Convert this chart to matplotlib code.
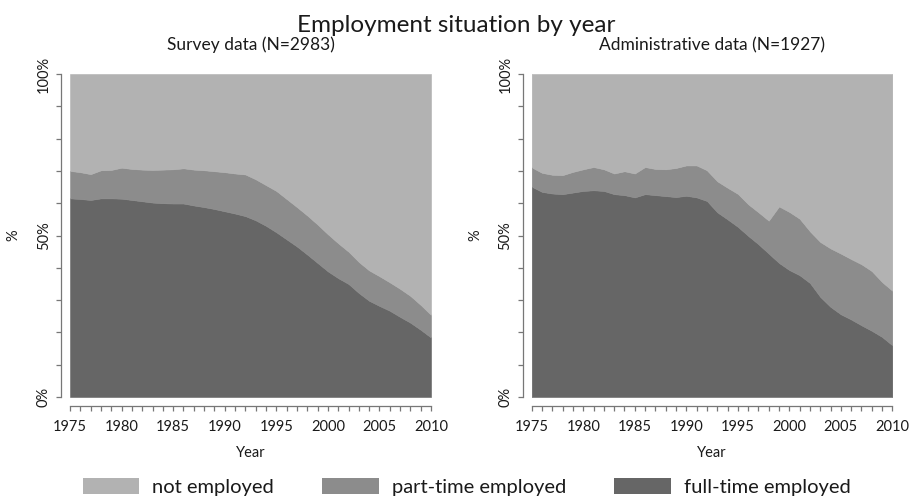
import matplotlib.pyplot as plt
import numpy as np
from matplotlib.patches import Patch
from matplotlib.ticker import MultipleLocator

plt.rcParams['font.family'] = ['Lato', 'DejaVu Sans']

years = np.arange(1975, 2011)

# shares in percent, survey sample
survey_full = [61.5, 61.3, 61.0, 61.5, 61.5, 61.4, 61.0, 60.6, 60.2, 60.0,
               59.9, 59.9, 59.3, 58.8, 58.2, 57.5, 56.8, 56.0, 54.7, 53.0,
               51.0, 48.8, 46.6, 44.1, 41.5, 38.9, 36.8, 35.0, 32.2, 29.8,
               28.2, 26.7, 24.8, 23.0, 20.8, 18.4]
survey_part = [8.5, 8.3, 8.0, 8.7, 8.8, 9.6, 9.6, 9.8, 10.1, 10.4,
               10.6, 10.9, 11.1, 11.4, 11.7, 12.1, 12.4, 12.9, 12.7, 12.6,
               12.8, 12.5, 12.2, 12.1, 11.9, 11.5, 10.8, 10.0, 9.6, 9.4,
               9.2, 8.8, 8.7, 8.3, 7.7, 7.0]

# shares in percent, administrative records
admin_full = [65.1, 63.5, 63.0, 62.8, 63.3, 63.8, 64.0, 63.8, 62.8, 62.5,
              61.8, 62.8, 62.5, 62.2, 61.9, 62.3, 61.8, 60.7, 57.2, 55.0,
              52.7, 49.9, 47.3, 44.4, 41.5, 39.3, 37.7, 35.3, 31.0, 27.9,
              25.6, 24.0, 22.2, 20.5, 18.6, 16.0]
admin_part = [6.0, 5.9, 5.8, 5.9, 6.4, 6.7, 7.2, 6.7, 6.4, 7.4,
              7.4, 8.4, 8.1, 8.3, 9.0, 9.4, 9.9, 9.5, 9.6, 9.8,
              10.2, 9.8, 9.9, 10.2, 17.5, 18.0, 17.5, 16.0, 17.0, 18.1,
              18.8, 18.7, 18.9, 18.5, 17.0, 16.9]

panels = ["Survey data (N=2983)", "Administrative data (N=1927)"]
labels = ["not employed", "part-time employed", "full-time employed"]
colors = ["#b2b2b2", "#8c8c8c", "#666666"]

fig = plt.figure(figsize=(9.13, 5.0), dpi=100)
ax1 = fig.add_axes([0.0767, 0.206, 0.3954, 0.646])
ax2 = fig.add_axes([0.5824, 0.206, 0.3950, 0.646])

def draw(ax, full, part, title):
    full = np.array(full)
    part = np.array(part)
    notemp = 100 - full - part
    ax.stackplot(years, full, part, notemp,
                 colors=[colors[2], colors[1], colors[0]],
                 linewidth=0.4, edgecolor='face')
    ax.set_xlim(1975, 2010)
    ax.set_ylim(0, 100)
    ax.margins(0)

    for s in ['top', 'right']:
        ax.spines[s].set_visible(False)
    for s in ['left', 'bottom']:
        ax.spines[s].set_position(('outward', 6.5))
        ax.spines[s].set_color('#777777')
        ax.spines[s].set_linewidth(0.9)
    ax.spines['left'].set_bounds(0, 100)
    ax.spines['bottom'].set_bounds(1975, 2010)

    ax.xaxis.set_major_locator(MultipleLocator(5))
    ax.xaxis.set_minor_locator(MultipleLocator(1))
    ax.set_yticks([0, 50, 100])
    ax.set_yticklabels(["0%", "50%", "100%"])
    ax.yaxis.set_minor_locator(MultipleLocator(10))
    ax.tick_params(which='both', length=3.3, width=0.9, color='#777777',
                   labelsize=10.5, labelcolor='#1a1a1a')
    ax.tick_params(axis='x', pad=6.5)
    ax.tick_params(axis='y', labelrotation=90, pad=4)
    for lab in ax.get_yticklabels():
        lab.set_va('center')

    ax.set_xlabel("Year", fontsize=10.5, color='#1a1a1a')
    ax.xaxis.set_label_coords(0.5, -0.172)
    ax.xaxis.label.set_va('center')
    ax.set_ylabel("%", fontsize=10.5, color='#1a1a1a')
    ax.yaxis.set_label_coords(-0.157, 0.5)
    ax.yaxis.label.set_va('center')

    ax.set_title(title, fontsize=12.5, color='#1a1a1a', pad=17)

draw(ax1, survey_full, survey_part, panels[0])
draw(ax2, admin_full, admin_part, panels[1])

fig.text(0.5, 0.937, "Employment situation by year", ha='center',
         va='baseline', fontsize=17.5, color='#1a1a1a')

handles = [Patch(facecolor=c, edgecolor='none') for c in colors]
fig.legend(handles, labels, loc='center', bbox_to_anchor=(0.511, 0.026),
           ncol=3, frameon=False, fontsize=14.5, handlelength=2.8,
           handleheight=0.85, handletextpad=0.65, columnspacing=2.4,
           labelcolor='#1a1a1a')

fig.savefig("out.png", dpi=100)
